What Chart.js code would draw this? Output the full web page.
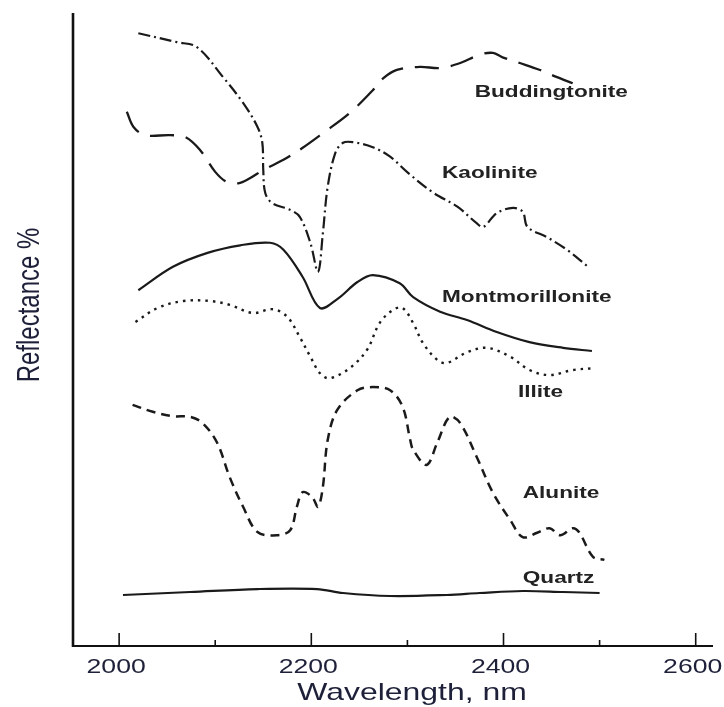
<!DOCTYPE html>
<html>
<head>
<meta charset="utf-8">
<title>SWIR reflectance spectra</title>
<script src="https://cdn.jsdelivr.net/npm/chart.js@4.4.1/dist/chart.umd.min.js"></script>
<style>
  html, body { margin: 0; padding: 0; background: #fff; }
  #wrap { width: 724px; height: 707px; position: relative; }
</style>
</head>
<body>
<div id="wrap"><canvas id="spectra"></canvas></div>
<script>
// Wavelength (nm) / reflectance (offset units) for each mineral
const buddingtoniteNm = [2008, 2015, 2027, 2053, 2069, 2084, 2100, 2112, 2124, 2136, 2150, 2171, 2191, 2212, 2240, 2264, 2275, 2289, 2313, 2334, 2355, 2375, 2389, 2399, 2417, 2438, 2455, 2472];
const buddingtoniteR  = [84.4, 82.0, 80.7, 80.7, 80.4, 78.4, 74.9, 73.3, 73.1, 73.9, 75.2, 76.8, 78.7, 81.0, 84.2, 87.8, 89.7, 91.0, 91.5, 91.3, 92.1, 93.4, 93.7, 93.0, 92.1, 91.0, 89.9, 88.9];

const kaoliniteNm = [2020, 2060, 2081, 2108, 2129, 2144, 2149, 2150, 2152, 2159, 2178, 2188, 2199, 2207, 2212, 2217, 2225, 2233, 2243, 2264, 2282, 2301, 2327, 2352, 2372, 2379, 2393, 2410, 2420, 2425, 2445, 2466, 2488];
const kaoliniteR  = [96.8, 95.4, 94.6, 89.9, 85.8, 82.0, 79.5, 75.2, 71.6, 70.0, 68.9, 67.8, 63.7, 59.1, 65.2, 72.5, 77.9, 79.5, 79.6, 78.8, 77.3, 74.7, 71.6, 69.4, 66.8, 66.2, 68.4, 69.2, 68.6, 66.2, 64.6, 62.6, 59.9];

const montmorilloniteNm = [2020, 2056, 2092, 2126, 2157, 2171, 2191, 2209, 2227, 2248, 2264, 2292, 2306, 2334, 2362, 2393, 2427, 2462, 2492];
const montmorilloniteR  = [56.2, 59.9, 62.1, 63.3, 63.7, 62.6, 58.3, 53.4, 54.8, 57.5, 58.6, 57.3, 55.1, 52.8, 51.5, 49.6, 48.0, 47.1, 46.6];

const illiteNm = [2017, 2040, 2067, 2095, 2115, 2139, 2160, 2175, 2188, 2199, 2209, 2219, 2240, 2258, 2271, 2285, 2295, 2306, 2316, 2331, 2341, 2362, 2383, 2407, 2427, 2448, 2472, 2495];
const illiteR  = [51.2, 53.4, 54.5, 54.5, 53.9, 52.6, 53.2, 52.0, 48.8, 45.7, 43.1, 42.3, 43.9, 46.8, 51.0, 53.1, 53.4, 51.0, 47.9, 45.2, 44.7, 46.4, 47.1, 45.7, 43.6, 42.8, 43.6, 43.9];

const aluniteNm = [2014, 2035, 2056, 2074, 2087, 2102, 2115, 2129, 2144, 2164, 2178, 2185, 2191, 2201, 2207, 2212, 2217, 2227, 2248, 2264, 2282, 2295, 2303, 2306, 2320, 2331, 2344, 2355, 2372, 2389, 2407, 2420, 2435, 2448, 2459, 2472, 2479, 2493, 2505];
const aluniteR  = [38.1, 37.0, 36.3, 36.2, 35.2, 32.1, 26.7, 22.0, 18.0, 17.5, 18.3, 22.0, 24.3, 23.5, 22.0, 25.1, 32.5, 37.3, 40.4, 40.9, 40.4, 37.8, 32.5, 31.0, 28.6, 32.1, 36.2, 35.2, 29.9, 24.2, 19.9, 17.2, 17.9, 18.6, 17.5, 18.6, 17.9, 14.1, 13.6];

const quartzNm = [2004, 2074, 2144, 2206, 2233, 2282, 2341, 2375, 2420, 2462, 2500];
const quartzR  = [8.06, 8.53, 9.0, 9.0, 8.37, 7.9, 8.06, 8.37, 8.69, 8.53, 8.37];

// Axis ticks and curve captions
const majorTicks = [2000, 2200, 2400, 2600];
const minorTicks = [2100, 2300, 2500];
const curveNames = ["Buddingtonite", "Kaolinite", "Montmorillonite", "Illite", "Alunite", "Quartz"];
const captionNm = [2370, 2336, 2336, 2415, 2420, 2420];
const captionR  = [87.4, 74.7, 55.1, 40.0, 24.2, 10.7];

const INK = "#1a1a1a";
const TEXT_INK = "#1d2038";
const STRETCH = 1.33; // the original figure is wider than it is tall

function toPoints(xs, ys) {
  return xs.map((x, i) => ({ x: x, y: ys[i] }));
}

function curve(label, xs, ys, dash, width) {
  return {
    label: label,
    data: toPoints(xs, ys),
    borderColor: INK,
    borderWidth: width || 2.2,
    borderDash: dash,
    borderCapStyle: "butt",
    pointRadius: 0,
    tension: 0.35,
    fill: false
  };
}

// text drawn a bit wider than tall, like the scanned figure
function stretchedText(ctx, text, x, y, font, color, align, rotate) {
  ctx.save();
  ctx.translate(x, y);
  if (rotate) {
    ctx.rotate(-Math.PI / 2);
    ctx.scale(1, STRETCH);
  } else {
    ctx.scale(STRETCH, 1);
  }
  ctx.font = font;
  ctx.fillStyle = color;
  ctx.textAlign = align;
  ctx.textBaseline = "middle";
  ctx.fillText(text, 0, 0);
  ctx.restore();
}

const axesAndLabels = {
  id: "axesAndLabels",
  afterDatasetsDraw(chart) {
    const { ctx, chartArea, scales } = chart;
    const xs = scales.x, ys = scales.y;
    const left = chartArea.left, bottom = chartArea.bottom;

    ctx.save();
    ctx.strokeStyle = "#111";
    ctx.lineCap = "butt";

    // left axis
    ctx.lineWidth = 2.6;
    ctx.beginPath();
    ctx.moveTo(left, chartArea.top);
    ctx.lineTo(left, bottom + 1);
    ctx.stroke();

    // bottom axis
    ctx.lineWidth = 2;
    ctx.beginPath();
    ctx.moveTo(left - 1, bottom);
    ctx.lineTo(chartArea.right, bottom);
    ctx.stroke();

    // tick marks point up into the plot
    ctx.lineWidth = 1.6;
    majorTicks.forEach(v => {
      const px = xs.getPixelForValue(v);
      ctx.beginPath();
      ctx.moveTo(px, bottom);
      ctx.lineTo(px, bottom - 13);
      ctx.stroke();
    });
    minorTicks.forEach(v => {
      const px = xs.getPixelForValue(v);
      ctx.beginPath();
      ctx.moveTo(px, bottom);
      ctx.lineTo(px, bottom - 6);
      ctx.stroke();
    });
    ctx.restore();

    // tick labels
    majorTicks.forEach(v => {
      const px = xs.getPixelForValue(v);
      stretchedText(ctx, String(v), px - 3, bottom + 21, "20px 'Liberation Sans', Arial, sans-serif", TEXT_INK, "center");
    });

    // axis titles
    stretchedText(ctx, "Wavelength, nm", (left + chartArea.right) / 2 + 19, bottom + 47, "24px 'Liberation Sans', Arial, sans-serif", TEXT_INK, "center");
    stretchedText(ctx, "Reflectance %", 30, 305, "24px 'Liberation Sans', Arial, sans-serif", TEXT_INK, "center", true);

    // curve captions
    curveNames.forEach((name, i) => {
      const px = xs.getPixelForValue(captionNm[i]);
      const py = ys.getPixelForValue(captionR[i]);
      stretchedText(ctx, name, px, py, "bold 17px 'Liberation Sans', Arial, sans-serif", "#222", "left");
    });
  }
};

new Chart(document.getElementById("spectra"), {
  type: "line",
  data: {
    datasets: [
      curve("Buddingtonite", buddingtoniteNm, buddingtoniteR, [24, 12], 2.3),
      curve("Kaolinite", kaoliniteNm, kaoliniteR, [12, 4, 2, 4], 2.2),
      curve("Montmorillonite", montmorilloniteNm, montmorilloniteR, [], 2.2),
      curve("Illite", illiteNm, illiteR, [2.5, 5], 2.4),
      curve("Alunite", aluniteNm, aluniteR, [9, 6], 2.5),
      curve("Quartz", quartzNm, quartzR, [], 2.2)
    ]
  },
  options: {
    responsive: true,
    maintainAspectRatio: false,
    animation: false,
    layout: { padding: { left: 73, right: 11, top: 13, bottom: 61 } },
    plugins: {
      legend: { display: false },
      tooltip: { enabled: false }
    },
    scales: {
      x: { type: "linear", min: 1952, max: 2618, display: false },
      y: { type: "linear", min: 0, max: 100, display: false }
    }
  },
  plugins: [axesAndLabels]
});
</script>
</body>
</html>
